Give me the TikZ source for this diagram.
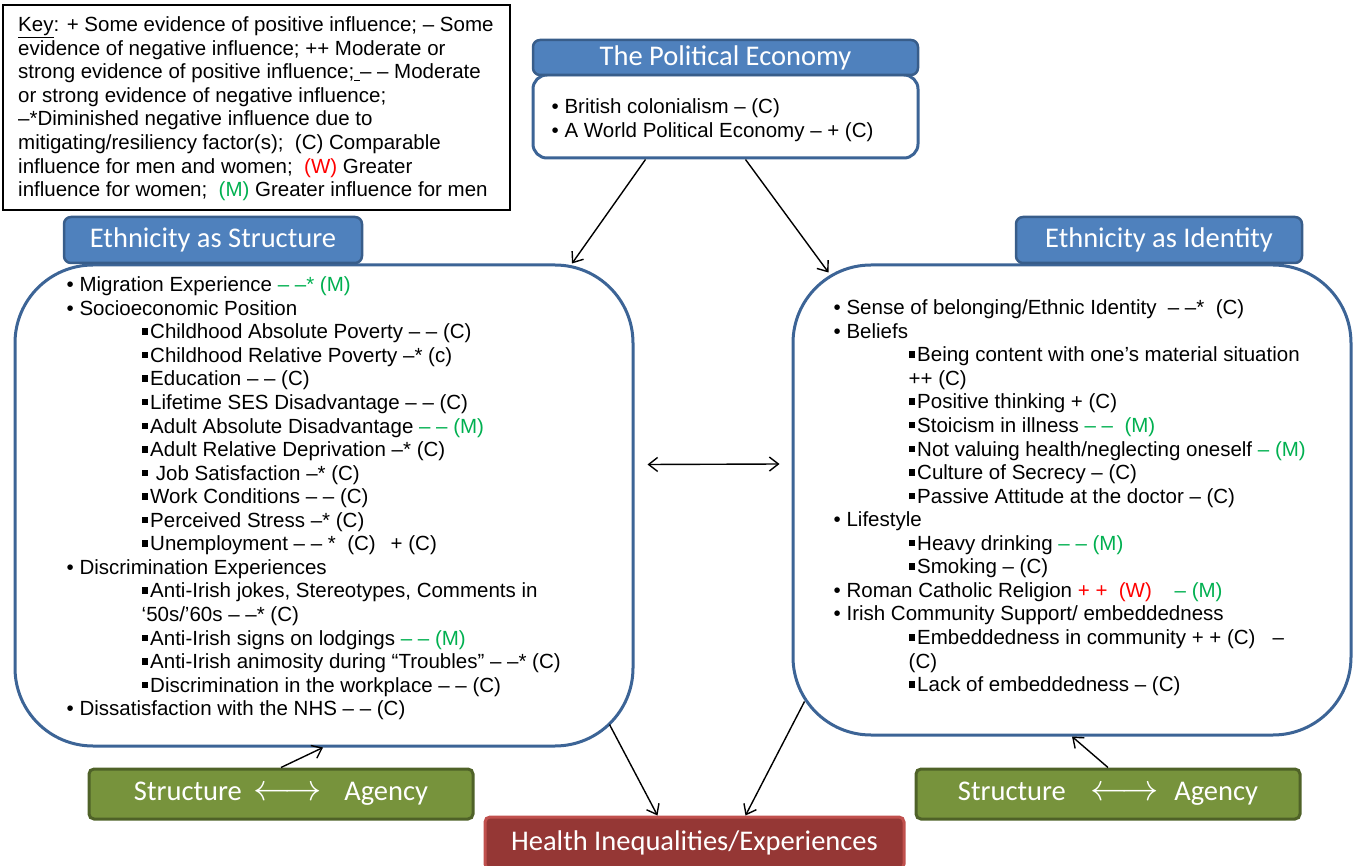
\documentclass[tikz,border=0pt]{standalone}
\usepackage{fontspec}
\setmainfont{Liberation Sans}
\newfontfamily\hdfont{Carlito}
\usetikzlibrary{arrows.meta}

\definecolor{hdblue}{HTML}{4F81BD}
\definecolor{hdedge}{HTML}{385D8A}
\definecolor{boxedge}{RGB}{60,100,150}
\definecolor{sagreen}{HTML}{77933C}
\definecolor{saedge}{HTML}{4F6228}
\definecolor{hired}{HTML}{953735}
\definecolor{hiedge}{HTML}{C0504D}
\definecolor{mgreen}{HTML}{00B050}
\definecolor{wred}{HTML}{FF0000}

\newcommand{\gm}[1]{\textcolor{mgreen}{#1}}
\newcommand{\rw}[1]{\textcolor{wred}{#1}}
\newcommand{\sqitem}{\hspace*{75pt}\rule[4pt]{6.5pt}{6.5pt}\hspace{2pt}}
\newcommand{\wrapitem}{\hspace*{75pt}}
\newcommand{\bigarrow}{\scalebox{1.5}{$\longleftrightarrow$}}

\begin{document}
\begin{tikzpicture}[x=1pt,y=-1pt]
\tikzset{
  keybox/.style={rectangle,draw=black,line width=1.5pt,inner sep=0pt},
  bodytext/.style={anchor=north west,align=left,inner sep=0pt,font=\fontsize{20.5}{23.56}\selectfont},
  headbox/.style={rectangle,rounded corners=7pt,draw=hdedge,fill=hdblue,line width=2.5pt,text=white,inner sep=0pt,font=\hdfont\fontsize{28.5}{30}\selectfont},
  bigbox/.style={rectangle,rounded corners=78pt,draw=boxedge,fill=white,line width=3pt,inner sep=0pt},
  sabox/.style={rectangle,rounded corners=5pt,draw=saedge,fill=sagreen,line width=3pt,text=white,inner sep=0pt,font=\hdfont\fontsize{28.5}{30}\selectfont},
  hibox/.style={rectangle,rounded corners=5pt,draw=hiedge,fill=hired,line width=3pt,text=white,inner sep=0pt,font=\hdfont\fontsize{28.5}{30}\selectfont},
  directed/.style={-{Straight Barb[length=9pt,width=14pt]},line width=1.4pt},
  bidirected/.style={{Straight Barb[length=9pt,width=14pt]}-{Straight Barb[length=9pt,width=14pt]},line width=1.4pt}
}
\useasboundingbox (0,0) rectangle (1353,866);
% key
\node[keybox,minimum width=507pt,minimum height=205pt] (n_key) at (256.5,107.5) {};
\node[bodytext] (n_keytxt) at (18,15) {\strut\underline{Key}: + Some evidence of positive influence; – Some\\
evidence of negative influence; ++ Moderate or\\
strong evidence of positive influence;\underline{\ }– – Moderate\\
or strong evidence of negative influence;\\
–*Diminished negative influence due to\\
mitigating/resiliency factor(s);\ \ (C) Comparable\\
influence for men and women;\ \ \rw{(W)} Greater\\
influence for women;\ \ \gm{(M)} Greater influence for men};
% political economy
\node[bigbox,rounded corners=14pt,minimum width=385pt,minimum height=83pt] (n_pebody) at (725.5,116.5) {};
\node[headbox,minimum width=385pt,minimum height=35pt] (n_pehead) at (725.5,57.5) {The Political Economy};
\node[bodytext] (n_petxt) at (551.5,97) {\strut• British colonialism – (C)\\
• A World Political Economy – + (C)};
% ethnicity as structure
\node[bigbox,minimum width=618pt,minimum height=481pt] (n_strbox) at (324,505.5) {};
\node[headbox,minimum width=298pt,minimum height=46pt] (n_strhead) at (213,240) {Ethnicity as Structure};
\node[bodytext] (n_strtxt) at (66.5,275) {\strut• Migration Experience \gm{– –* (M)}\\
• Socioeconomic Position\\
\sqitem Childhood Absolute Poverty – – (C)\\
\sqitem Childhood Relative Poverty –* (c)\\
\sqitem Education – – (C)\\
\sqitem Lifetime SES Disadvantage – – (C)\\
\sqitem Adult Absolute Disadvantage \gm{– – (M)}\\
\sqitem Adult Relative Deprivation –* (C)\\
\sqitem\ Job Satisfaction –* (C)\\
\sqitem Work Conditions – – (C)\\
\sqitem Perceived Stress –* (C)\\
\sqitem Unemployment – – *\ \ (C)\hspace{15pt}+ (C)\\
• Discrimination Experiences\\
\sqitem Anti-Irish jokes, Stereotypes, Comments in\\
\wrapitem ‘50s/’60s – –* (C)\\
\sqitem Anti-Irish signs on lodgings \gm{– – (M)}\\
\sqitem Anti-Irish animosity during “Troubles” – –* (C)\\
\sqitem Discrimination in the workplace – – (C)\\
• Dissatisfaction with the NHS – – (C)};
% ethnicity as identity
\node[bigbox,minimum width=558pt,minimum height=470pt] (n_idbox) at (1072,500) {};
\node[headbox,minimum width=286pt,minimum height=46pt] (n_idhead) at (1159,240) {Ethnicity as Identity};
\node[bodytext] (n_idtxt) at (833.5,298) {\strut• Sense of belonging/Ethnic Identity \ – –*\ \ (C)\\
• Beliefs\\
\sqitem Being content with one’s material situation\\
\wrapitem ++ (C)\\
\sqitem Positive thinking + (C)\\
\sqitem Stoicism in illness \gm{– –\ \ (M)}\\
\sqitem Not valuing health/neglecting oneself \gm{– (M)}\\
\sqitem Culture of Secrecy – (C)\\
\sqitem Passive Attitude at the doctor – (C)\\
• Lifestyle\\
\sqitem Heavy drinking \gm{– – (M)}\\
\sqitem Smoking – (C)\\
• Roman Catholic Religion \rw{+ +\ \ (W)}\ \ \ \ \gm{– (M)}\\
• Irish Community Support/ embeddedness\\
\sqitem Embeddedness in community + + (C)\ \ \ –\\
\wrapitem (C)\\
\sqitem Lack of embeddedness – (C)};
% bottom boxes
\node[sabox,minimum width=384pt,minimum height=50pt] (n_saleft) at (281,794) {Structure\hspace{12pt}\bigarrow\hspace{22pt}Agency};
\node[sabox,minimum width=384pt,minimum height=50pt] (n_saright) at (1108,794) {Structure\hspace{25pt}\bigarrow\hspace{15pt}Agency};
\node[hibox,minimum width=419pt,minimum height=52pt] (n_health) at (694.5,843) {Health Inequalities/Experiences};
% connectors
\draw[directed] ([xshift=-80pt]n_pebody.south) -- ([xshift=248pt]n_strbox.north);
\draw[directed] ([xshift=20pt]n_pebody.south) -- ([shift={(37pt,-9pt)}]n_idbox.north west);
\draw[bidirected] ([shift={(13pt,41pt)}]n_strbox.east) -- ([shift={(-12pt,36pt)}]n_idbox.west);
\draw[directed] ([shift={(-25pt,23pt)}]n_strbox.south east) -- ([xshift=-37pt]n_health.north);
\draw[directed] ([shift={(13pt,35pt)}]n_idbox.south west) -- ([xshift=51pt]n_health.north);
\draw[directed] (n_saleft.north) -- ([xshift=-1pt]n_strbox.south);
\draw[directed] (n_saright.north) -- (n_idbox.south);
\end{tikzpicture}
\end{document}
